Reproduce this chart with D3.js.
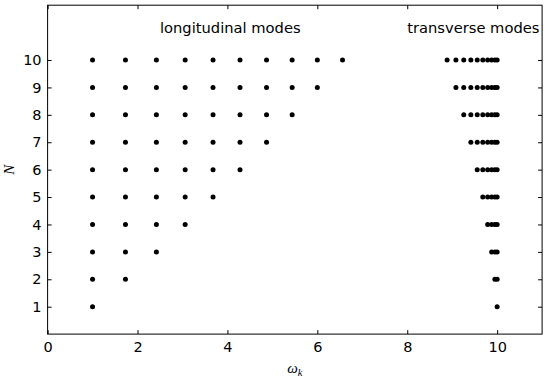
<!DOCTYPE html>
<meta charset="utf-8">
<title>Longitudinal and transverse modes</title>
<style>
body { margin: 0; background: #fff; }
.axis text { font: 14.5px "DejaVu Sans", sans-serif; fill: #000; }
.axis path { display: none; }
.axis line { stroke: #000; stroke-width: 1px; }
.frame { fill: none; stroke: #000; stroke-width: 1px; }
.dot { fill: #000; }
.note { font: 14.7px "DejaVu Sans", sans-serif; fill: #000; }
.label { font: italic 15px "Liberation Serif", serif; fill: #000; }
</style>
<svg id="chart" width="553" height="379"></svg>
<script src="https://d3js.org/d3.v7.min.js"></script>
<script>
// N = number of ions (rows)
const ions = [1, 2, 3, 4, 5, 6, 7, 8, 9, 10];

// longitudinal mode frequencies
const longitudinal = [
  [1],
  [1, 1.732],
  [1, 1.732, 2.42],
  [1, 1.732, 2.42, 3.06],
  [1, 1.732, 2.42, 3.06, 3.68],
  [1, 1.732, 2.42, 3.06, 3.68, 4.28],
  [1, 1.732, 2.42, 3.06, 3.68, 4.28, 4.87],
  [1, 1.732, 2.42, 3.06, 3.68, 4.28, 4.87, 5.44],
  [1, 1.732, 2.42, 3.06, 3.68, 4.28, 4.87, 5.44, 6.0],
  [1, 1.732, 2.42, 3.06, 3.68, 4.28, 4.87, 5.44, 6.0, 6.56]
];

// transverse mode frequencies
const transverse = [
  [10],
  [10, 9.95],
  [10, 9.95, 9.878],
  [10, 9.95, 9.878, 9.789],
  [10, 9.95, 9.878, 9.789, 9.681],
  [10, 9.95, 9.878, 9.789, 9.681, 9.557],
  [10, 9.95, 9.878, 9.789, 9.681, 9.557, 9.415],
  [10, 9.95, 9.878, 9.789, 9.681, 9.557, 9.415, 9.257],
  [10, 9.95, 9.878, 9.789, 9.681, 9.557, 9.415, 9.257, 9.083],
  [10, 9.95, 9.878, 9.789, 9.681, 9.557, 9.415, 9.257, 9.083, 8.887]
];

const xTicks = [0, 2, 4, 6, 8, 10];
const yTicks = [1, 2, 3, 4, 5, 6, 7, 8, 9, 10];
const notes = [
  { text: "longitudinal modes", x: 2.5, y: 11 },
  { text: "transverse modes", x: 8, y: 11 }
];

let svg = d3.select("#chart"),
    margin = {top: 5.2, right: 10.9, bottom: 44.9, left: 47.6},
    width = 553 - margin.left - margin.right,
    height = 379 - margin.top - margin.bottom,
    g = svg.append("g").attr("transform", "translate(" + margin.left + "," + margin.top + ")");

let x = d3.scaleLinear().domain([0, 11]).range([0, width]),
    y = d3.scaleLinear().domain([0, 12]).range([height, 0]);

// flatten rows into points
let points = [];
ions.forEach((n, i) => {
  longitudinal[i].forEach(w => points.push({w: w, n: n}));
  transverse[i].forEach(w => points.push({w: w, n: n}));
});

g.selectAll(".dot")
  .data(points)
  .enter().append("circle")
    .attr("class", "dot")
    .attr("cx", d => x(d.w))
    .attr("cy", d => y(d.n))
    .attr("r", 2.5);

// ticks point inward on all four sides
g.append("g")
    .attr("class", "axis axis--x")
    .attr("transform", "translate(0," + height + ")")
    .call(d3.axisBottom(x).tickValues(xTicks).tickSizeInner(-4).tickSizeOuter(0).tickPadding(8));
g.append("g")
    .attr("class", "axis")
    .call(d3.axisTop(x).tickValues(xTicks).tickSizeInner(-4).tickSizeOuter(0).tickFormat(""));
g.append("g")
    .attr("class", "axis axis--y")
    .call(d3.axisLeft(y).tickValues(yTicks).tickSizeInner(-4).tickSizeOuter(0).tickPadding(6));
g.append("g")
    .attr("class", "axis")
    .attr("transform", "translate(" + width + ",0)")
    .call(d3.axisRight(y).tickValues(yTicks).tickSizeInner(-4).tickSizeOuter(0).tickFormat(""));

g.append("rect")
  .attr("class", "frame")
  .attr("width", width)
  .attr("height", height);

g.selectAll(".note")
  .data(notes)
  .enter().append("text")
    .attr("class", "note")
    .attr("x", d => x(d.x))
    .attr("y", d => y(d.y))
    .text(d => d.text);

// axis labels
let xl = svg.append("text")
  .attr("class", "label")
  .attr("text-anchor", "middle")
  .attr("x", margin.left + width / 2)
  .attr("y", 373);
xl.append("tspan").text("ω");
xl.append("tspan").attr("dy", 3).style("font-size", "10.5px").text("k");

svg.append("text")
  .attr("class", "label")
  .attr("text-anchor", "middle")
  .attr("transform", "translate(13.5," + (margin.top + height / 2) + ") rotate(-90)")
  .text("N");
</script>
